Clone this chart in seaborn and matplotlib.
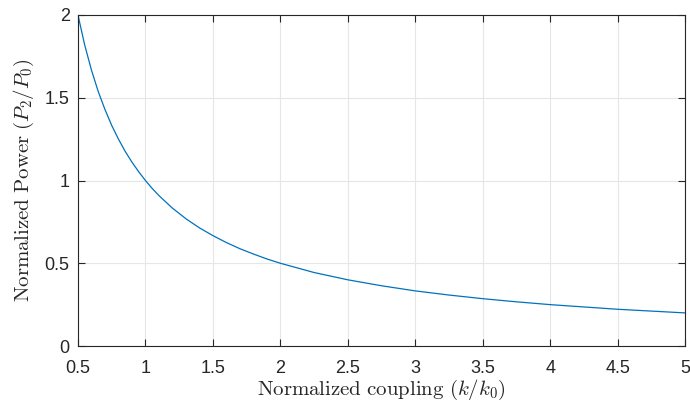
import matplotlib
matplotlib.use("Agg")
import matplotlib.pyplot as plt
import seaborn as sns
import pandas as pd

coupling = [0.5, 0.55, 0.6, 0.65, 0.7, 0.75, 0.8, 0.85, 0.9, 0.95, 1.0, 1.05, 1.1, 1.2,
            1.3, 1.4, 1.5, 1.6, 1.7, 1.8, 1.9, 2.0, 2.25, 2.5, 2.75, 3.0, 3.25, 3.5,
            3.75, 4.0, 4.5, 5.0]
power = [2.0, 1.818, 1.667, 1.538, 1.429, 1.333, 1.25, 1.176, 1.111, 1.053, 1.0, 0.952,
         0.909, 0.833, 0.769, 0.714, 0.667, 0.625, 0.588, 0.556, 0.526, 0.5, 0.444,
         0.4, 0.364, 0.333, 0.308, 0.286, 0.267, 0.25, 0.222, 0.2]
xticks = [0.5, 1, 1.5, 2, 2.5, 3, 3.5, 4, 4.5, 5]
xticklabels = ["0.5", "1", "1.5", "2", "2.5", "3", "3.5", "4", "4.5", "5"]
yticks = [0, 0.5, 1, 1.5, 2]
yticklabels = ["0", "0.5", "1", "1.5", "2"]

df = pd.DataFrame({"k": coupling, "P": power})

sns.set_style("white")
plt.rcParams["font.family"] = ["Liberation Sans", "DejaVu Sans"]
plt.rcParams["mathtext.fontset"] = "cm"

fig = plt.figure(figsize=(6.9, 4.03), dpi=100)
ax = fig.add_axes([0.113, 0.1414, 0.880, 0.8214])
sns.lineplot(data=df, x="k", y="P", ax=ax, color="#0072BD", linewidth=0.9)

ax.set_xlim(0.5, 5)
ax.set_ylim(0, 2)
ax.set_xticks(xticks)
ax.set_xticklabels(xticklabels)
ax.set_yticks(yticks)
ax.set_yticklabels(yticklabels)
ax.grid(True, color="#e6e6e6", linewidth=0.8)
ax.set_axisbelow(True)
for s in ax.spines.values():
    s.set_color("#262626")
    s.set_linewidth(0.8)
    s.set_visible(True)
ax.tick_params(direction="in", length=5, width=0.8, color="#262626",
               labelsize=13, labelcolor="#262626", top=True, right=True,
               bottom=True, left=True, pad=6)
ax.tick_params(axis="x", pad=10)
ax.set_xlabel(r"$\mathrm{Normalized\ coupling\ }(k/k_0)$", fontsize=15, color="#262626", labelpad=0.5)
ax.set_ylabel(r"$\mathrm{Normalized\ Power\ }(P_2/P_0)$", fontsize=15, color="#262626", labelpad=6)

fig.savefig("out.png", dpi=100)
